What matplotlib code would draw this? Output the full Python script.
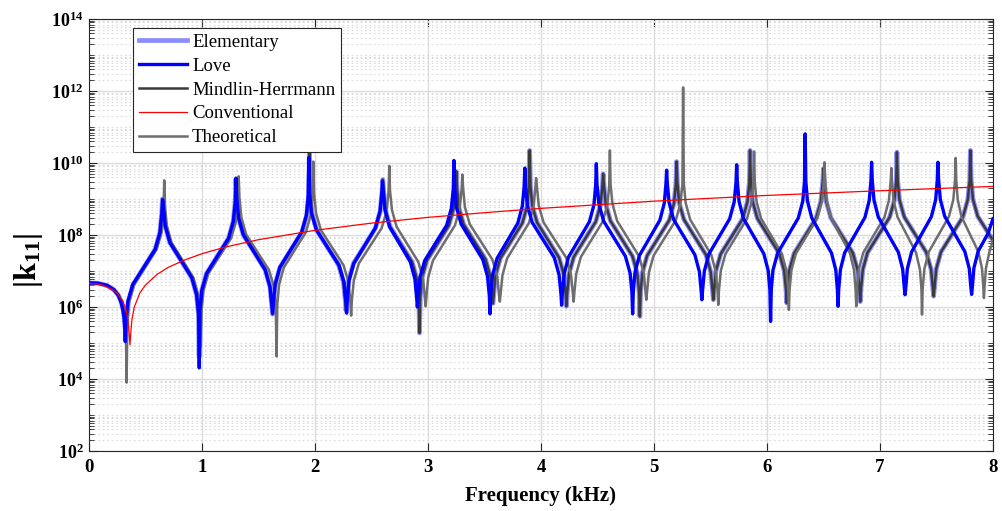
import matplotlib
matplotlib.use('Agg')
import matplotlib.pyplot as plt
import numpy as np
from matplotlib.ticker import FixedLocator, FuncFormatter, NullFormatter

# |k11| curves, values as log10 exponents
love_f = [0, 0.08, 0.16, 0.22, 0.26, 0.285, 0.300, 0.310, 0.316, 0.321,
          .328, .344, .387, .487, .586, .629, .645, .652,
          .659, .675, .717, .814, .911, .953, .970, .976,
          .983, .999, 1.041, 1.139, 1.236, 1.278, 1.295, 1.301,
          1.308, 1.324, 1.366, 1.463, 1.560, 1.602, 1.619, 1.625,
          1.631, 1.648, 1.689, 1.786, 1.882, 1.924, 1.940, 1.946,
          1.953, 1.969, 2.013, 2.113, 2.213, 2.257, 2.273, 2.280,
          2.286, 2.302, 2.344, 2.439, 2.534, 2.576, 2.592, 2.598,
          2.604, 2.620, 2.660, 2.752, 2.844, 2.884, 2.900, 2.906,
          2.913, 2.929, 2.971, 3.068, 3.165, 3.207, 3.224, 3.230,
          3.236, 3.252, 3.294, 3.390, 3.485, 3.527, 3.543, 3.549,
          3.555, 3.571, 3.611, 3.703, 3.795, 3.835, 3.851, 3.857,
          3.864, 3.880, 3.922, 4.020, 4.118, 4.160, 4.177, 4.183,
          4.189, 4.205, 4.244, 4.337, 4.429, 4.469, 4.484, 4.490,
          4.496, 4.513, 4.554, 4.651, 4.747, 4.789, 4.805, 4.811,
          4.817, 4.832, 4.871, 4.962, 5.052, 5.091, 5.106, 5.112,
          5.118, 5.134, 5.174, 5.268, 5.362, 5.402, 5.418, 5.424,
          5.430, 5.446, 5.486, 5.578, 5.670, 5.710, 5.726, 5.732,
          5.738, 5.753, 5.792, 5.882, 5.972, 6.011, 6.026, 6.032,
          6.038, 6.053, 6.093, 6.185, 6.277, 6.317, 6.332, 6.338,
          6.344, 6.358, 6.396, 6.484, 6.571, 6.609, 6.623, 6.629,
          6.635, 6.650, 6.688, 6.778, 6.867, 6.905, 6.920, 6.926,
          6.932, 6.947, 6.985, 7.074, 7.163, 7.201, 7.216, 7.222,
          7.228, 7.242, 7.280, 7.368, 7.455, 7.493, 7.507, 7.513,
          7.519, 7.534, 7.573, 7.662, 7.751, 7.790, 7.805, 7.811,
          7.817, 7.831, 7.869, 7.956, 8.0]
love_exp = [6.67, 6.66, 6.60, 6.48, 6.32, 6.12, 5.92, 5.70, 5.45, 5.04,
            5.61, 6.15, 6.62, 7.11, 7.60, 8.07, 8.61, 8.98,
            8.80, 8.26, 7.79, 7.30, 6.81, 6.34, 5.80, 4.31,
            5.92, 6.46, 6.93, 7.42, 7.91, 8.38, 8.92, 9.58,
            9.02, 8.48, 8.01, 7.52, 7.03, 6.56, 6.02, 5.83,
            6.09, 6.63, 7.10, 7.59, 8.08, 8.55, 9.09, 10.15,
            9.15, 8.61, 8.14, 7.65, 7.16, 6.69, 6.15, 5.83,
            6.20, 6.74, 7.21, 7.70, 8.19, 8.66, 9.20, 9.49,
            9.24, 8.70, 8.23, 7.74, 7.25, 6.78, 6.24, 6.00,
            6.28, 6.82, 7.29, 7.78, 8.27, 8.74, 9.28, 10.07,
            9.31, 8.77, 8.30, 7.81, 7.32, 6.85, 6.31, 5.81,
            6.34, 6.88, 7.35, 7.84, 8.33, 8.80, 9.34, 9.86,
            9.36, 8.82, 8.35, 7.86, 7.37, 6.90, 6.36, 6.05,
            6.38, 6.92, 7.39, 7.88, 8.37, 8.84, 9.38, 9.98,
            9.40, 8.86, 8.39, 7.90, 7.41, 6.94, 6.40, 5.81,
            6.42, 6.96, 7.43, 7.92, 8.41, 8.88, 9.42, 9.80,
            9.44, 8.90, 8.43, 7.94, 7.45, 6.98, 6.44, 6.20,
            6.46, 7.00, 7.47, 7.96, 8.45, 8.92, 9.46, 9.95,
            9.47, 8.93, 8.46, 7.97, 7.48, 7.01, 6.47, 5.60,
            6.48, 7.02, 7.49, 7.98, 8.47, 8.94, 9.48, 10.81,
            9.49, 8.95, 8.48, 7.99, 7.50, 7.03, 6.49, 6.02,
            6.50, 7.04, 7.51, 8.00, 8.49, 8.96, 9.50, 10.02,
            9.51, 8.97, 8.50, 8.01, 7.52, 7.05, 6.51, 6.34,
            6.52, 7.06, 7.53, 8.02, 8.51, 8.98, 9.52, 10.02,
            9.53, 8.99, 8.52, 8.03, 7.54, 7.07, 6.53, 6.35,
            6.54, 7.08, 7.55, 8.04, 8.45]

# Elementary and Mindlin-Herrmann lie on top of each other in the figure
elem_f = [0, 0.08, 0.16, 0.22, 0.26, 0.285, 0.300, 0.312, 0.319, 0.325,
          .332, .348, .390, .488, .585, .627, .644, .650,
          .657, .673, .715, .813, .910, .952, .969, .975,
          .982, .998, 1.040, 1.138, 1.235, 1.277, 1.294, 1.300,
          1.307, 1.323, 1.365, 1.463, 1.560, 1.602, 1.619, 1.625,
          1.632, 1.648, 1.690, 1.788, 1.885, 1.927, 1.944, 1.950,
          1.957, 1.973, 2.015, 2.113, 2.210, 2.252, 2.269, 2.275,
          2.282, 2.298, 2.340, 2.438, 2.535, 2.577, 2.594, 2.600,
          2.607, 2.623, 2.665, 2.763, 2.860, 2.902, 2.919, 2.925,
          2.932, 2.948, 2.990, 3.088, 3.185, 3.227, 3.244, 3.250,
          3.257, 3.273, 3.315, 3.413, 3.510, 3.552, 3.569, 3.575,
          3.582, 3.598, 3.640, 3.738, 3.835, 3.877, 3.894, 3.900,
          3.907, 3.923, 3.965, 4.063, 4.160, 4.202, 4.219, 4.225,
          4.232, 4.248, 4.290, 4.388, 4.485, 4.527, 4.544, 4.550,
          4.557, 4.573, 4.615, 4.713, 4.810, 4.852, 4.869, 4.875,
          4.882, 4.898, 4.940, 5.038, 5.135, 5.177, 5.194, 5.200,
          5.207, 5.223, 5.265, 5.363, 5.460, 5.502, 5.519, 5.525,
          5.532, 5.548, 5.590, 5.688, 5.785, 5.827, 5.844, 5.850,
          5.857, 5.873, 5.915, 6.013, 6.110, 6.152, 6.169, 6.175,
          6.182, 6.198, 6.240, 6.338, 6.435, 6.477, 6.494, 6.500,
          6.507, 6.523, 6.565, 6.663, 6.760, 6.802, 6.819, 6.825,
          6.832, 6.848, 6.890, 6.988, 7.085, 7.127, 7.144, 7.150,
          7.157, 7.173, 7.215, 7.313, 7.410, 7.452, 7.469, 7.475,
          7.482, 7.498, 7.540, 7.638, 7.735, 7.777, 7.794, 7.800,
          7.807, 7.823, 7.865, 7.963, 8.0]
elem_exp = [6.67, 6.66, 6.60, 6.48, 6.33, 6.14, 5.96, 5.75, 5.50, 5.10,
            5.61, 6.15, 6.62, 7.11, 7.60, 8.07, 8.61, 9.00,
            8.80, 8.26, 7.79, 7.30, 6.81, 6.34, 5.80, 4.63,
            5.92, 6.46, 6.93, 7.42, 7.91, 8.38, 8.92, 9.55,
            9.02, 8.48, 8.01, 7.52, 7.03, 6.56, 6.02, 5.80,
            6.09, 6.63, 7.10, 7.59, 8.08, 8.55, 9.09, 10.32,
            9.15, 8.61, 8.14, 7.65, 7.16, 6.69, 6.15, 5.90,
            6.20, 6.74, 7.21, 7.70, 8.19, 8.66, 9.20, 9.54,
            9.24, 8.70, 8.23, 7.74, 7.25, 6.78, 6.24, 5.28,
            6.28, 6.82, 7.29, 7.78, 8.27, 8.74, 9.28, 9.77,
            9.31, 8.77, 8.30, 7.81, 7.32, 6.85, 6.31, 6.10,
            6.34, 6.88, 7.35, 7.84, 8.33, 8.80, 9.34, 10.35,
            9.36, 8.82, 8.35, 7.86, 7.37, 6.90, 6.36, 6.02,
            6.38, 6.92, 7.39, 7.88, 8.37, 8.84, 9.38, 9.70,
            9.40, 8.86, 8.39, 7.90, 7.41, 6.94, 6.40, 5.74,
            6.42, 6.96, 7.43, 7.92, 8.41, 8.88, 9.42, 10.04,
            9.44, 8.90, 8.43, 7.94, 7.45, 6.98, 6.44, 6.20,
            6.46, 7.00, 7.47, 7.96, 8.45, 8.92, 9.46, 10.35,
            9.47, 8.93, 8.46, 7.97, 7.48, 7.01, 6.47, 6.11,
            6.48, 7.02, 7.49, 7.98, 8.47, 8.94, 9.48, 9.85,
            9.49, 8.95, 8.48, 7.99, 7.50, 7.03, 6.49, 6.15,
            6.50, 7.04, 7.51, 8.00, 8.49, 8.96, 9.50, 10.30,
            9.51, 8.97, 8.50, 8.01, 7.52, 7.05, 6.51, 6.30,
            6.52, 7.06, 7.53, 8.02, 8.51, 8.98, 9.52, 10.35,
            9.53, 8.99, 8.52, 8.03, 7.85]
mh_f = elem_f
mh_exp = elem_exp

theo_f = [0, 0.08, 0.16, 0.22, 0.26, 0.29, 0.306, 0.318, 0.326, 0.333,
          .340, .356, .400, .500, .599, .643, .659, .666,
          .673, .689, .731, .828, .925, .967, .984, .990,
          .997, 1.014, 1.057, 1.158, 1.258, 1.302, 1.318, 1.325,
          1.332, 1.349, 1.392, 1.493, 1.593, 1.637, 1.653, 1.660,
          1.667, 1.683, 1.725, 1.823, 1.920, 1.962, 1.979, 1.985,
          1.992, 2.009, 2.052, 2.153, 2.253, 2.297, 2.313, 2.320,
          2.327, 2.344, 2.388, 2.489, 2.590, 2.634, 2.651, 2.658,
          2.664, 2.681, 2.722, 2.819, 2.915, 2.957, 2.973, 2.979,
          2.986, 3.002, 3.044, 3.142, 3.239, 3.281, 3.298, 3.304,
          3.311, 3.327, 3.370, 3.470, 3.570, 3.613, 3.629, 3.636,
          3.642, 3.659, 3.700, 3.797, 3.893, 3.935, 3.951, 3.957,
          3.964, 3.980, 4.023, 4.123, 4.223, 4.266, 4.282, 4.289,
          4.295, 4.312, 4.353, 4.450, 4.546, 4.588, 4.604, 4.610,
          4.616, 4.633, 4.674, 4.771, 4.868, 4.910, 4.926, 4.932,
          4.939, 4.955, 4.997, 5.095, 5.193, 5.235, 5.252, 5.258,
          5.264, 5.280, 5.320, 5.414, 5.507, 5.547, 5.563, 5.569,
          5.575, 5.591, 5.632, 5.728, 5.823, 5.864, 5.880, 5.886,
          5.892, 5.908, 5.948, 6.040, 6.132, 6.172, 6.188, 6.194,
          6.200, 6.216, 6.257, 6.352, 6.446, 6.487, 6.503, 6.509,
          6.515, 6.529, 6.565, 6.650, 6.734, 6.770, 6.784, 6.790,
          6.796, 6.812, 6.852, 6.946, 7.039, 7.079, 7.095, 7.101,
          7.106, 7.120, 7.155, 7.237, 7.318, 7.353, 7.367, 7.372,
          7.378, 7.393, 7.432, 7.521, 7.610, 7.649, 7.664, 7.670,
          7.675, 7.688, 7.720, 7.795, 7.870, 7.903, 7.915, 7.920,
          7.925, 7.938, 7.970, 8.0]
theo_exp = [6.67, 6.66, 6.61, 6.50, 6.36, 6.15, 5.96, 5.75, 5.45, 3.90,
            5.61, 6.15, 6.62, 7.11, 7.60, 8.07, 8.61, 9.52,
            8.80, 8.26, 7.79, 7.30, 6.81, 6.34, 5.80, 4.90,
            5.92, 6.46, 6.93, 7.42, 7.91, 8.38, 8.92, 9.63,
            9.02, 8.48, 8.01, 7.52, 7.03, 6.56, 6.02, 4.63,
            6.09, 6.63, 7.10, 7.59, 8.08, 8.55, 9.09, 10.04,
            9.15, 8.61, 8.14, 7.65, 7.16, 6.69, 6.15, 5.76,
            6.20, 6.74, 7.21, 7.70, 8.19, 8.66, 9.20, 9.92,
            9.24, 8.70, 8.23, 7.74, 7.25, 6.78, 6.24, 6.02,
            6.28, 6.82, 7.29, 7.78, 8.27, 8.74, 9.28, 9.68,
            9.31, 8.77, 8.30, 7.81, 7.32, 6.85, 6.31, 6.15,
            6.34, 6.88, 7.35, 7.84, 8.33, 8.80, 9.34, 9.58,
            9.36, 8.82, 8.35, 7.86, 7.37, 6.90, 6.36, 6.15,
            6.38, 6.92, 7.39, 7.88, 8.37, 8.84, 9.38, 10.35,
            9.40, 8.86, 8.39, 7.90, 7.41, 6.94, 6.40, 6.20,
            6.42, 6.96, 7.43, 7.92, 8.41, 8.88, 9.42, 12.10,
            9.44, 8.90, 8.43, 7.94, 7.45, 6.98, 6.44, 6.06,
            6.46, 7.00, 7.47, 7.96, 8.45, 8.92, 9.46, 10.32,
            9.47, 8.93, 8.46, 7.97, 7.48, 7.01, 6.47, 5.92,
            6.48, 7.02, 7.49, 7.98, 8.47, 8.94, 9.48, 10.02,
            9.49, 8.95, 8.48, 7.99, 7.50, 7.03, 6.49, 6.02,
            6.50, 7.04, 7.51, 8.00, 8.49, 8.96, 9.50, 9.86,
            9.51, 8.97, 8.50, 8.01, 7.52, 7.05, 6.51, 5.79,
            6.52, 7.06, 7.53, 8.02, 8.51, 8.98, 9.52, 10.14,
            9.53, 8.99, 8.52, 8.03, 7.54, 7.07, 6.53, 6.25,
            6.54, 7.08, 7.55, 7.85]

conv_f = [0, 0.1, 0.2, 0.25, 0.3, 0.33, 0.345, 0.355, 0.363, 0.372, 0.38, 0.4,
          0.45, 0.5, 0.6, 0.7, 0.85, 1.0, 1.2, 1.5, 2.0, 2.5, 3.0, 3.5, 4.0,
          5.0, 6.0, 7.0, 8.0]
conv_exp = [6.66, 6.63, 6.50, 6.38, 6.17, 5.90, 5.65, 5.30, 4.95, 5.36, 5.64, 5.99,
            6.39, 6.61, 6.90, 7.10, 7.31, 7.48, 7.66, 7.87, 8.13, 8.33, 8.49, 8.62, 8.74,
            8.94, 9.10, 9.23, 9.35]

x_ticks = [0, 1, 2, 3, 4, 5, 6, 7, 8]
y_tick_exps = [2, 4, 6, 8, 10, 12, 14]

plt.rcParams['font.family'] = 'Liberation Serif'
plt.rcParams['mathtext.fontset'] = 'custom'
plt.rcParams['mathtext.rm'] = 'Liberation Serif:bold'
plt.rcParams['mathtext.bf'] = 'Liberation Serif:bold'
plt.rcParams['mathtext.it'] = 'Liberation Serif:italic:bold'

fig = plt.figure(figsize=(10.03, 5.11), dpi=100)
ax = fig.add_axes([0.0887, 0.1174, 0.9013, 0.8454])

ax.plot(elem_f, 10 ** np.array(elem_exp), color='#8c8cff', lw=3.4, label='Elementary', zorder=2)
ax.plot(love_f, 10 ** np.array(love_exp), color='#0000ff', lw=2.4, label='Love', zorder=5)
ax.plot(mh_f, 10 ** np.array(mh_exp), color='#3a3a3a', lw=1.8, label='Mindlin-Herrmann', zorder=3)
ax.plot(conv_f, 10 ** np.array(conv_exp), color='#ff0000', lw=0.9, label='Conventional', zorder=6)
ax.plot(theo_f, 10 ** np.array(theo_exp), color='#6e6e6e', lw=1.8, label='Theoretical', zorder=4)

ax.set_yscale('log')
ax.set_xlim(0, 8)
ax.set_ylim(1e2, 1e14)

ax.set_xticks(x_ticks)
ax.set_xticklabels([str(t) for t in x_ticks], fontweight='bold')
ax.yaxis.set_major_locator(FixedLocator([10.0 ** e for e in y_tick_exps]))
minor = [k * 10.0 ** e for e in range(2, 14) for k in range(1, 10) if not (k == 1 and e % 2 == 0)]
ax.yaxis.set_minor_locator(FixedLocator(minor))
ax.yaxis.set_minor_formatter(NullFormatter())
ax.yaxis.set_major_formatter(FuncFormatter(lambda v, p: r'$\mathbf{10^{%d}}$' % round(np.log10(v))))

ax.tick_params(which='both', direction='in', top=True, right=True, color='#262626')
ax.tick_params(which='major', length=6, width=0.8)
ax.tick_params(which='minor', length=3.5, width=0.6)
ax.tick_params(axis='x', labelsize=13.5, pad=6)
ax.tick_params(axis='y', labelsize=13, pad=4)

ax.set_axisbelow(True)
ax.grid(which='major', color='#dcdcdc', lw=1.0)
ax.yaxis.grid(which='minor', color='#dadada', lw=0.8, ls=(0, (1.5, 2.5)))
for s in ax.spines.values():
    s.set_color('#262626')
    s.set_linewidth(0.8)

ax.set_xlabel('Frequency (kHz)', fontsize=15, fontweight='bold', labelpad=7)
ax.set_ylabel(r'$|\mathbf{k}_{\mathbf{11}}|$', fontsize=23)
ax.yaxis.set_label_coords(-0.049, 0.44)

leg = ax.legend(loc='upper left', bbox_to_anchor=(0.0487, 0.979), borderaxespad=0,
                fancybox=False, framealpha=1, edgecolor='#262626', fontsize=13.5,
                handlelength=2.6, handletextpad=0.25, labelspacing=0.36, borderpad=0.3)
leg.get_frame().set_linewidth(0.8)

fig.savefig('out.png', dpi=100)
